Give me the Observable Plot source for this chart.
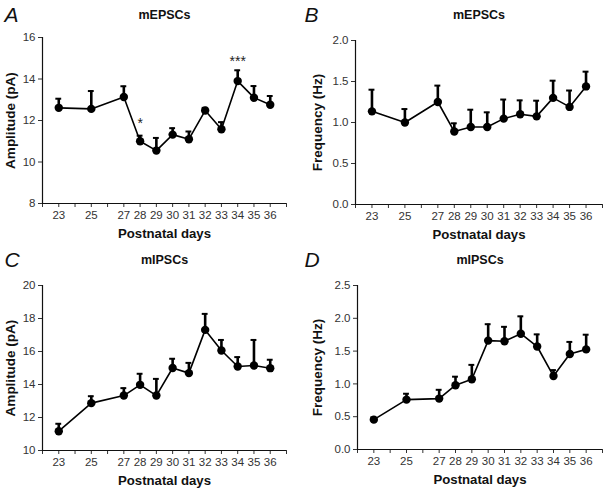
<!DOCTYPE html>
<html><head><meta charset="utf-8">
<script src="https://cdn.jsdelivr.net/npm/d3@7"></script>
<script src="https://cdn.jsdelivr.net/npm/@observablehq/plot@0.6"></script>
<style>
body{margin:0;background:#fff;font-family:"Liberation Sans",Arial,sans-serif;}
#wrap{position:relative;width:605px;height:490px;}
.panel{position:absolute;}
</style></head>
<body><div id="wrap"></div>
<script>
const days = [23,25,27,28,29,30,31,32,33,34,35,36];
const tickDays = [22,23,24,25,26,27,28,29,30,31,32,33,34,35,36,37];
const labelDays = [23,25,27,28,29,30,31,32,33,34,35,36];

const ampE = [12.61,12.56,13.13,11.0,10.55,11.32,11.1,12.48,11.58,13.9,13.1,12.76];
const ampEUp = [13.05,13.42,13.65,11.27,11.16,11.63,11.47,12.61,11.92,14.42,13.66,13.18];
const freqE = [1.136,1.0,1.25,0.89,0.945,0.945,1.047,1.10,1.075,1.30,1.19,1.44];
const freqEUp = [1.40,1.164,1.45,0.99,1.156,1.124,1.28,1.27,1.266,1.51,1.39,1.62];
const ampI = [11.17,12.87,13.33,13.98,13.33,15.0,14.69,17.31,16.06,15.09,15.15,14.99];
const ampIUp = [11.62,13.29,13.78,14.65,14.34,15.56,15.31,18.28,16.7,15.66,16.7,15.5];
const freqI = [0.455,0.76,0.776,0.98,1.07,1.66,1.65,1.765,1.57,1.12,1.455,1.526];
const freqIUp = [0.49,0.85,0.91,1.11,1.29,1.91,1.87,2.03,1.755,1.21,1.64,1.75];

const starsA = [{day:28, y:11.87, t:"*"},{day:34, y:14.85, t:"***"}];

const panels = [
  {letter:"A", title:"mEPSCs", ylabel:"Amplitude (pA)", mean:ampE, up:ampEUp, ydom:[8,16], yticks:[8,10,12,14,16], fmt:d3.format("d"),
   left:0, top:0, w:300, mL:42, mR:14, mT:37, mB:42, labDx:-32, stars:starsA},
  {letter:"B", title:"mEPSCs", ylabel:"Frequency (Hz)", mean:freqE, up:freqEUp, ydom:[0,2], yticks:[0,0.5,1,1.5,2], fmt:d3.format(".1f"),
   left:300, top:0, w:305, mL:55, mR:3, mT:40, mB:41, labDx:-38, stars:[]},
  {letter:"C", title:"mIPSCs", ylabel:"Amplitude (pA)", mean:ampI, up:ampIUp, ydom:[10,20], yticks:[10,12,14,16,18,20], fmt:d3.format("d"),
   left:0, top:245, w:300, mL:42, mR:14, mT:40, mB:40, labDx:-32, stars:[]},
  {letter:"D", title:"mIPSCs", ylabel:"Frequency (Hz)", mean:freqI, up:freqIUp, ydom:[0,2.5], yticks:[0,0.5,1,1.5,2,2.5], fmt:d3.format(".1f"),
   left:300, top:245, w:305, mL:57, mR:3, mT:40, mB:41, labDx:-40, stars:[]}
];

const wrap = document.getElementById("wrap");
const FONT = "Liberation Sans, Arial, sans-serif";

for (const p of panels) {
  const data = days.map((d,i)=>({day:d, mean:p.mean[i], up:p.up[i]}));
  const chart = Plot.plot({
    width: p.w, height: 245,
    marginLeft: p.mL, marginRight: p.mR, marginTop: p.mT, marginBottom: p.mB,
    style: {fontFamily: FONT, fontSize: "11.5px", color: "#333", background: "white"},
    x: {domain:[22,37], ticks: tickDays, tickFormat: d => labelDays.includes(d) ? String(d) : "", tickSize: 4, tickPadding: 3, label: null},
    y: {domain:p.ydom, ticks: p.yticks, tickFormat: p.fmt, tickSize: 4, tickPadding: 3, label: null},
    marks: [
      Plot.ruleX([22], {stroke:"#111", strokeWidth:1.2}),
      Plot.ruleY([p.ydom[0]], {stroke:"#111", strokeWidth:1.2}),
      Plot.ruleX(data, {x:"day", y1:"mean", y2:"up", stroke:"#000", strokeWidth:2.6}),
      Plot.ruleY(data, {y:"up", x1: d=>d.day-0.18, x2: d=>d.day+0.18, stroke:"#000", strokeWidth:2}),
      Plot.line(data, {x:"day", y:"mean", stroke:"#000", strokeWidth:1.6}),
      Plot.dot(data, {x:"day", y:"mean", r:4.2, fill:"#000", stroke:"none"}),
      Plot.text(p.stars, {x:"day", y:"y", text:"t", fontSize:14, fill:"#222"}),
      Plot.text([p.title], {frameAnchor:"top", dy: 14 - p.mT, lineAnchor:"middle", fontWeight:"bold", fontSize:12.5, fill:"#111"}),
      Plot.text([p.letter], {frameAnchor:"top-left", dx: 4 - p.mL, dy: 15 - p.mT, lineAnchor:"middle", fontStyle:"italic", fontSize:21, fill:"#111", textAnchor:"start"}),
      Plot.text([p.ylabel], {frameAnchor:"left", dx: p.labDx, rotate:-90, textAnchor:"middle", lineAnchor:"middle", fontWeight:"bold", fontSize:13.5, fill:"#111"}),
      Plot.text(["Postnatal days"], {frameAnchor:"bottom", dy: 30, lineAnchor:"middle", fontWeight:"bold", fontSize:13.2, fill:"#111"})
    ]
  });
  const div = document.createElement("div");
  div.className = "panel";
  div.style.left = p.left + "px";
  div.style.top = p.top + "px";
  div.appendChild(chart);
  wrap.appendChild(div);
}
</script></body></html>
